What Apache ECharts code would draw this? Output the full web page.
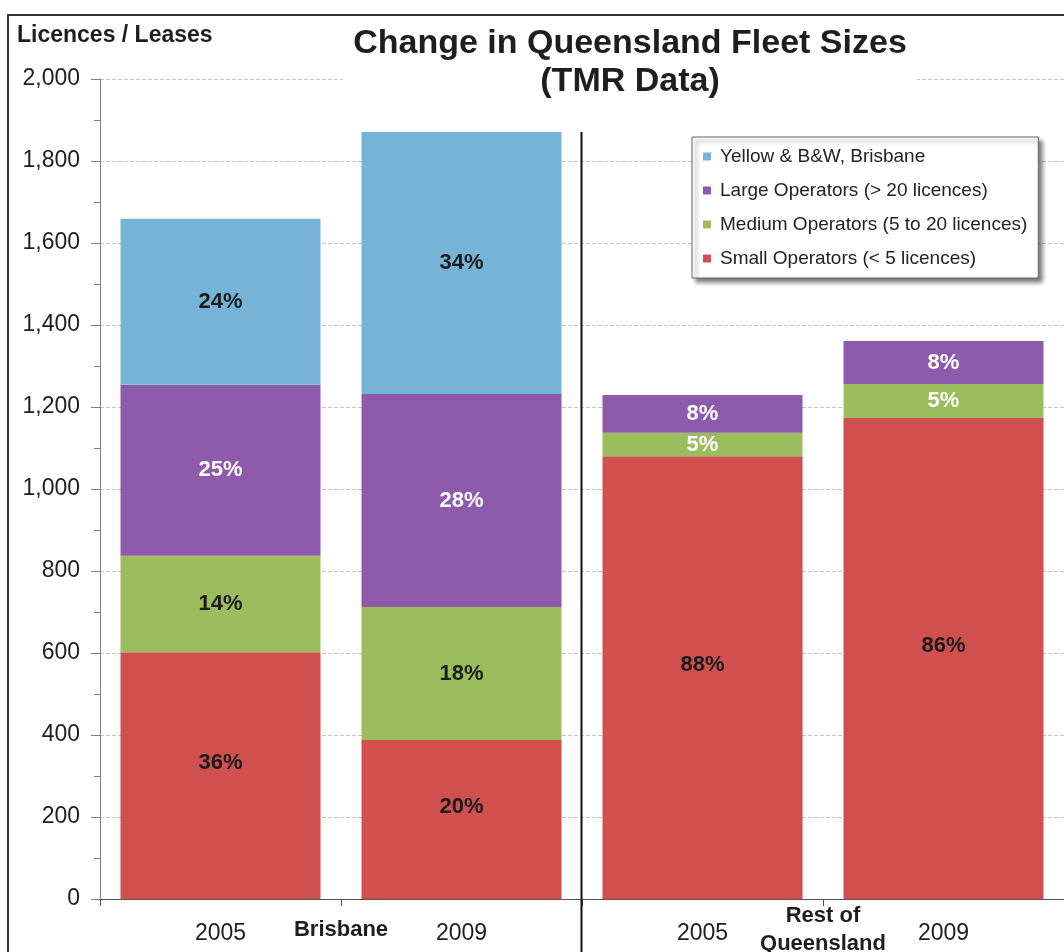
<!DOCTYPE html>
<html>
<head>
<meta charset="utf-8">
<title>Change in Queensland Fleet Sizes</title>
<script src="https://cdn.jsdelivr.net/npm/echarts@6/dist/echarts.min.js"></script>
<style>
  html, body { margin: 0; padding: 0; background: #fff; }
  #chart { width: 1064px; height: 952px; }
</style>
</head>
<body>
<div id="chart"></div>
<script>
// categories (two level axis)
const years = ['2005', '2009', '2005', '2009'];
const regions = ['Brisbane', 'Rest of\nQueensland'];

// licences / leases per operator type
const small = [602, 388, 1080, 1173];
const medium = [235, 324, 57, 83];
const large = [417, 520, 92, 105];
const yellowBW = [405, 639, null, null];

// percentage labels as printed on the bars
const smallPct = ['36%', '20%', '88%', '86%'];
const mediumPct = ['14%', '18%', '5%', '5%'];
const largePct = ['25%', '28%', '8%', '8%'];
const yellowPct = ['24%', '34%', '', ''];

const yTicks = [0, 200, 400, 600, 800, 1000, 1200, 1400, 1600, 1800, 2000];

const FONT = '"Liberation Sans", Arial, sans-serif';
const DARK = '#1b1b1b';

let chart = echarts.init(document.getElementById('chart'));

// 堆叠柱
function barSeries(name, values, pcts, color, labelColors, offset) {
  return {
    name: name,
    type: 'bar',
    stack: 'total',
    barWidth: 200,
    xAxisIndex: 0,
    data: values.map((v, i) => ({
      value: v,
      label: { color: labelColors[i] }
    })),
    itemStyle: { color: color },
    label: {
      show: true,
      position: 'inside',
      offset: offset || [0, 0],
      fontFamily: FONT,
      fontSize: 22,
      fontWeight: 'bold',
      formatter: p => pcts[p.dataIndex] || ''
    }
  };
}

let option = {
  animation: false,
  backgroundColor: '#fff',
  textStyle: { fontFamily: FONT },
  title: [
    {
      text: 'Licences / Leases',
      left: 17,
      top: 24,
      padding: 0,
      textStyle: { fontFamily: FONT, fontSize: 23, fontWeight: 'bold', color: '#1e1e1e' }
    },
    {
      text: 'Change in Queensland Fleet Sizes\n(TMR Data)',
      left: 620,
      top: 25,
      textAlign: 'center',
      backgroundColor: '#fff',
      padding: [0, 10, 0, 10],
      textStyle: { fontFamily: FONT, fontSize: 34, fontWeight: 'bold', lineHeight: 38, color: '#1e1e1e' }
    }
  ],
  legend: {
    orient: 'vertical',
    left: 692,
    top: 137,
    backgroundColor: '#fff',
    borderColor: '#666',
    borderWidth: 1,
    padding: [10, 11, 10, 11],
    shadowBlur: 4,
    shadowOffsetX: 4,
    shadowOffsetY: 4,
    shadowColor: 'rgba(0,0,0,0.5)',
    itemWidth: 8,
    itemHeight: 8,
    itemGap: 15,
    icon: 'rect',
    data: [
      'Yellow & B&W, Brisbane',
      'Large Operators (> 20 licences)',
      'Medium Operators (5 to 20 licences)',
      'Small Operators (< 5 licences)'
    ],
    textStyle: { fontFamily: FONT, fontSize: 19, lineHeight: 19, color: '#222', padding: [0, 0, 0, 4] }
  },
  grid: { left: 100, right: 0, top: 79, bottom: 53, outerBoundsMode: 'none' },
  xAxis: [
    {
      type: 'category',
      data: years,
      position: 'bottom',
      axisLine: { lineStyle: { color: '#555', width: 1 } },
      axisTick: { show: true, length: 7, lineStyle: { color: '#555' } },
      axisLabel: {
        margin: 35,
        verticalAlign: 'middle',
        fontFamily: FONT,
        fontSize: 23,
        color: '#1e1e1e'
      },
      splitLine: { show: false }
    },
    {
      type: 'category',
      data: regions,
      position: 'bottom',
      axisLine: { show: false },
      axisTick: { show: false },
      axisLabel: {
        margin: 31,
        verticalAlign: 'middle',
        fontFamily: FONT,
        fontSize: 22,
        fontWeight: 'bold',
        lineHeight: 28,
        color: '#1e1e1e'
      },
      splitLine: { show: false }
    }
  ],
  yAxis: {
    type: 'value',
    min: yTicks[0],
    max: yTicks[yTicks.length - 1],
    interval: yTicks[1] - yTicks[0],
    axisLine: { show: true, lineStyle: { color: '#808080' } },
    axisTick: { show: true, length: 9, lineStyle: { color: '#808080' } },
    minorTick: { show: true, splitNumber: 2, length: 6, lineStyle: { color: '#808080' } },
    axisLabel: {
      margin: 20,
      fontFamily: FONT,
      fontSize: 23,
      color: '#1e1e1e',
      formatter: v => v.toLocaleString('en-US')
    },
    splitLine: { show: true, lineStyle: { color: '#c4c4c4', width: 1, type: [4, 2] } }
  },
  series: [
    barSeries('Small Operators (< 5 licences)', small, smallPct, '#d05050',
      [DARK, DARK, DARK, DARK], [0, -13]),
    barSeries('Medium Operators (5 to 20 licences)', medium, mediumPct, '#9cbc5e',
      [DARK, DARK, '#fff', '#fff']),
    barSeries('Large Operators (> 20 licences)', large, largePct, '#8e5bab',
      ['#fff', '#fff', '#fff', '#fff']),
    barSeries('Yellow & B&W, Brisbane', yellowBW, yellowPct, '#76b4d7',
      [DARK, DARK, DARK, DARK])
  ]
};

chart.setOption(option);

// 分隔线 (between Brisbane and Rest of Queensland) + outer frame
let x1 = chart.convertToPixel({ xAxisIndex: 0 }, 1);
let x2 = chart.convertToPixel({ xAxisIndex: 0 }, 2);
let bris09 = small[1] + medium[1] + large[1] + yellowBW[1];
let topY = chart.convertToPixel({ yAxisIndex: 0 }, bris09);
let divX = Math.round((x1 + x2) / 2) - 0.5;

chart.setOption({
  graphic: [
    {
      type: 'line',
      z: 50,
      shape: { x1: divX, y1: topY, x2: divX, y2: 952 },
      style: { stroke: '#111', lineWidth: 2 }
    },
    {
      type: 'rect',
      z: 50,
      shape: { x: 8, y: 15, width: 1100, height: 1000 },
      style: { fill: 'none', stroke: '#333', lineWidth: 2 }
    }
  ]
});
</script>
</body>
</html>
